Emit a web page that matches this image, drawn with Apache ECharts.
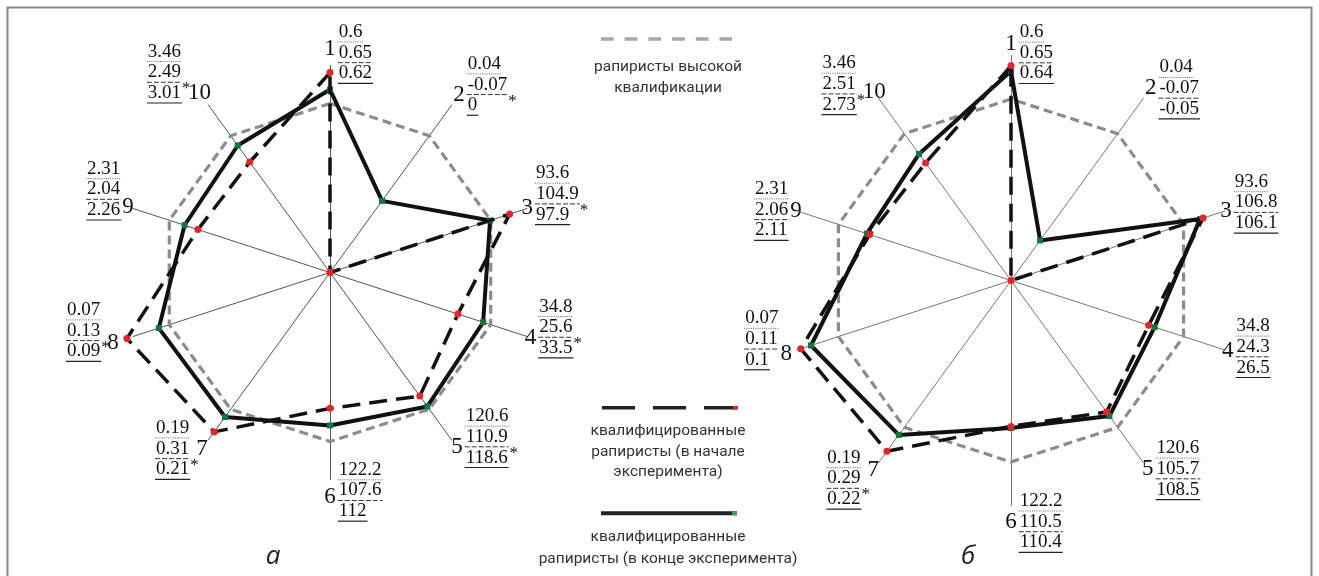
<!DOCTYPE html>
<html>
<head>
<meta charset="utf-8">
<script src="https://cdn.jsdelivr.net/npm/echarts@6/dist/echarts.min.js"></script>
<style>
  html, body { margin: 0; padding: 0; background: #fff; }
  #chart { width: 1319px; height: 576px; }
</style>
</head>
<body>
<div id="chart"></div>
<script>
  // номера показателей (оси по часовой стрелке, 1 — сверху)
  let axisNums = ['1', '2', '3', '4', '5', '6', '7', '8', '9', '10']

  // подписи у осей: рапиристы высокой квалификации / начало / конец эксперимента
  let refLabels = ['0.6', '0.04', '93.6', '34.8', '120.6', '122.2', '0.19', '0.07', '2.31', '3.46']
  let startLabelsA = ['0.65', '-0.07', '104.9', '25.6', '110.9', '107.6', '0.31', '0.13', '2.04', '2.49']
  let endLabelsA = ['0.62', '0', '97.9', '33.5', '118.6', '112', '0.21', '0.09', '2.26', '3.01']
  let starsA = [0, 1, 1, 1, 1, 0, 1, 1, 0, 1]
  let startLabelsB = ['0.65', '-0.07', '106.8', '24.3', '105.7', '110.5', '0.29', '0.11', '2.06', '2.51']
  let endLabelsB = ['0.64', '-0.05', '106.1', '26.5', '108.5', '110.4', '0.22', '0.1', '2.11', '2.73']
  let starsB = [0, 0, 0, 0, 0, 0, 1, 0, 0, 1]

  // значения в % от уровня рапиристов высокой квалификации
  let highVals = [100, 100, 100, 100, 100, 100, 100, 100, 100, 100]
  let startValsA = [118.3, 0, 111.8, 79.6, 90.4, 80.4, 116.6, 126.4, 82.2, 80.8]
  let endValsA = [108.3, 52.4, 99.6, 95.3, 98.0, 90.5, 105.7, 106.5, 90.5, 92.9]
  let startValsB = [118.3, 0, 111.3, 79.8, 89.6, 80.4, 116.3, 121.8, 81.9, 80.1]
  let endValsB = [115.4, 27.3, 109.5, 83.2, 92.3, 81.3, 105.2, 115.9, 83.5, 86.2]

  // размещение подписей (радиус номера оси и строка стопки, на которой стоит номер)
  let numRadiusA = [224, 219.5, 207.4, 210.7, 215.9, 224.2, 217.7, 228.2, 212.3, 221.9]
  let numAlignA = [0.8, 1.5, 1.7, 1.5, 1.5, 1.3, 1, 1.6, 1.85, 2]
  let numRadiusB = [237, 237.7, 226, 228, 232.8, 241.2, 234.3, 236.4, 226, 232.7]
  let numAlignB = [0.55, 1, 1.4, 1.2, 1, 1, 0.6, 1.7, 1.05, 1.4]

  // echarts раскладывает оси против часовой стрелки — переставляем
  let order = [0, 9, 8, 7, 6, 5, 4, 3, 2, 1]
  let reorder = arr => order.map(i => arr[i])

  let ctx = document.createElement('canvas').getContext('2d')
  let textWidth = (t, font) => { ctx.font = font; return ctx.measureText(t).width }

  let NUM_FONT = '19px "Liberation Serif"'
  let AX_FONT = '23px "Liberation Serif"'
  let LH = 20.7

  function txt(x, y, t, font, align, fill) {
    return {
      type: 'text', x: x, y: y, silent: true,
      style: { text: t, font: font, fill: fill || '#111', align: align, verticalAlign: 'middle',
               textAlign: align, textVerticalAlign: 'middle' }
    }
  }
  function ln(x1, y1, x2, y2, color, w, dash) {
    return {
      type: 'line', silent: true,
      shape: { x1: x1, y1: y1, x2: x2, y2: y2 },
      style: { stroke: color, lineWidth: w, lineDash: dash || null }
    }
  }

  function axisLabels(cx, cy, rNum, align, starts, ends, stars) {
    let els = []
    for (let k = 0; k < 10; k++) {
      let a = k * Math.PI / 5
      let ax = cx + rNum[k] * Math.sin(a)
      let ay = cy - rNum[k] * Math.cos(a)
      let nw = textWidth(axisNums[k], AX_FONT)
      els.push(txt(ax, ay, axisNums[k], AX_FONT, 'center'))
      let lines = [refLabels[k], starts[k], ends[k]]
      let ws = lines.map(t => textWidth(t, NUM_FONT))
      let maxW = Math.max.apply(null, ws)
      let left = k < 6 ? ax + nw / 2 + 3 : ax - nw / 2 - (stars[k] ? 7 : 2) - maxW
      lines.forEach((t, i) => {
        let y = ay + (i - align[k]) * LH
        els.push(txt(left, y, t, NUM_FONT, 'left'))
        let uy = y + 10
        if (i === 0) els.push(ln(left - 1, uy, left + ws[i] + 1, uy, '#666', 1, [1, 1.2]))
        if (i === 1) els.push(ln(left - 1, uy, left + ws[i] + 1, uy, '#333', 1, [5, 2]))
        if (i === 2) els.push(ln(left - 1, uy, left + ws[i] + 1, uy, '#222', 1.2))
      })
      if (stars[k]) els.push(txt(left + maxW + 1, ay + (1.8 - align[k]) * LH, '*', '17px "Liberation Serif"', 'left'))
    }
    return els
  }

  function radarCfg(center, radius, max, axisColor) {
    return {
      center: center,
      radius: radius,
      startAngle: 90,
      shape: 'polygon',
      splitNumber: 1,
      indicator: axisNums.map(() => ({ max: max, min: 0 })),
      axisName: { show: false },
      axisLine: { lineStyle: { color: axisColor, width: 1 } },
      axisTick: { show: false },
      axisLabel: { show: false },
      splitLine: { show: false },
      splitArea: { show: false }
    }
  }

  function seriesFor(idx, startVals, endVals) {
    return [
      {
        type: 'radar', radarIndex: idx, z: 2, silent: true,
        data: [{ value: reorder(highVals), name: 'рапиристы высокой квалификации', symbol: 'none',
                 lineStyle: { color: '#8c8c8c', width: 3.2, type: [9, 5] } }]
      },
      {
        type: 'radar', radarIndex: idx, z: 3, silent: true,
        data: [{ value: reorder(endVals), name: 'в конце эксперимента', symbol: 'rect', symbolSize: 6,
                 itemStyle: { color: '#0b7a3b' }, lineStyle: { color: '#111', width: 4 } }]
      },
      {
        type: 'radar', radarIndex: idx, z: 4, silent: true,
        data: [{ value: reorder(startVals), name: 'в начале эксперимента', symbol: 'circle', symbolSize: 7,
                 itemStyle: { color: '#ee2027' }, lineStyle: { color: '#111', width: 3.5, type: [18, 9] } }]
      }
    ]
  }

  let LEG_FONT = '15.5px Roboto'
  let legend = [
    ln(601, 39, 737, 39, '#a8a8a8', 3.5, [12.7, 11]),
    txt(668, 66.7, 'рапиристы высокой', LEG_FONT, 'center', '#333'),
    txt(668, 88.3, 'квалификации', LEG_FONT, 'center', '#333'),
    ln(602, 407.7, 738, 407.7, '#222', 3.5, [33, 18]),
    ln(733, 407.7, 738, 407.7, '#ee2027', 3.5),
    txt(668, 431, 'квалифицированные', LEG_FONT, 'center', '#333'),
    txt(668, 451.7, 'рапиристы (в начале', LEG_FONT, 'center', '#333'),
    txt(668, 472.3, 'эксперимента)', LEG_FONT, 'center', '#333'),
    ln(601, 513.3, 737, 513.3, '#222', 4),
    ln(732, 513.3, 737, 513.3, '#2fa84f', 4),
    txt(668, 536.7, 'квалифицированные', LEG_FONT, 'center', '#333'),
    txt(668, 559, 'рапиристы (в конце эксперимента)', LEG_FONT, 'center', '#333'),
    txt(273, 557, 'а', 'italic 26px "Open Sans"', 'center', '#222'),
    txt(968, 557, 'б', 'italic 26px "Open Sans"', 'center', '#222'),
    {
      type: 'rect', silent: true,
      shape: { x: 7.5, y: 7.5, width: 1304, height: 600 },
      style: { fill: null, stroke: '#888', lineWidth: 2 }
    }
  ]

  let chart = echarts.init(document.getElementById('chart'))
  chart.setOption({
    animation: false,
    backgroundColor: '#fff',
    radar: [
      radarCfg([330, 272.5], 207, 122.5, '#555'),
      radarCfg([1011, 280.5], 225, 124, '#777')
    ],
    series: seriesFor(0, startValsA, endValsA).concat(seriesFor(1, startValsB, endValsB)),
    graphic: legend
      .concat(axisLabels(330, 272.5, numRadiusA, numAlignA, startLabelsA, endLabelsA, starsA))
      .concat(axisLabels(1011, 280.5, numRadiusB, numAlignB, startLabelsB, endLabelsB, starsB))
  })
</script>
</body>
</html>
